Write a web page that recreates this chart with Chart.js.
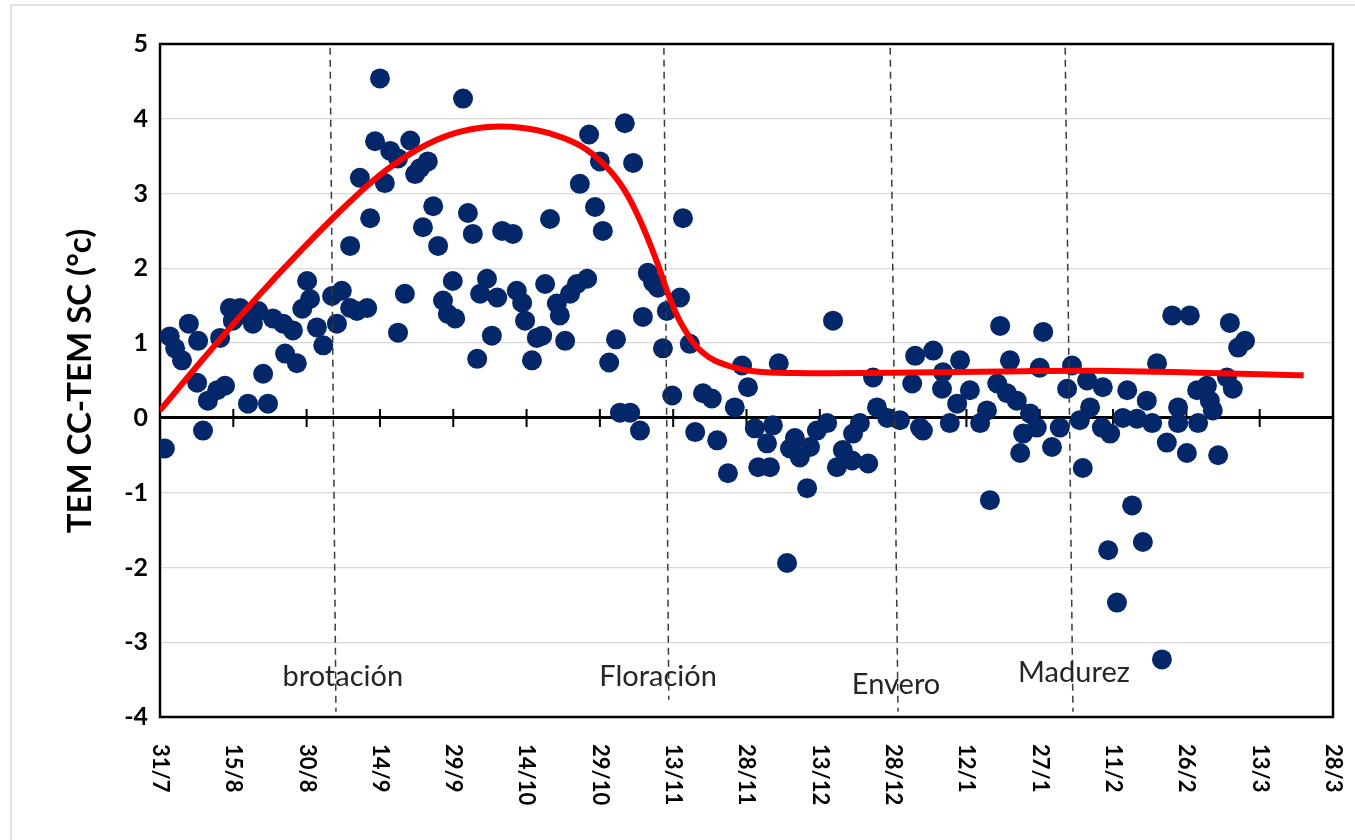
<!DOCTYPE html>
<html>
<head>
<meta charset="utf-8">
<script src="https://cdn.jsdelivr.net/npm/chart.js@4.4.1/dist/chart.umd.min.js"></script>
<style>
  html, body { margin: 0; padding: 0; background: #fff; }
  #wrap { width: 1355px; height: 840px; }
</style>
</head>
<body>
<div id="wrap"><canvas id="chart" width="1355" height="840"></canvas></div>
<script>
'use strict';

// x = days since 31/7, y = TEM CC - TEM SC (°C)
const pointDays = [
  1.0, 2.0, 3.1, 4.5, 5.9, 7.8, 7.6, 8.8, 9.8, 11.7, 13.3, 12.3, 14.3, 16.4, 14.9, 18.4, 20.1, 19.0,
  21.1, 18.0, 22.1, 23.1, 25.2, 27.2, 25.6, 28.0, 30.1, 29.1, 30.7, 32.1, 33.4, 35.2, 36.2, 37.2, 38.9,
  45.0, 62.0, 44.0, 51.2, 47.1, 48.7, 40.9, 46.0, 54.8, 53.2, 52.2, 43.0, 55.9, 53.8, 56.9, 63.0, 64.0,
  70.0, 72.2, 38.9, 42.4, 40.3, 50.1, 48.7, 59.9, 57.9, 60.4, 58.9, 66.9, 65.5, 69.0, 67.9, 64.9, 73.0,
  74.1, 74.7, 77.1, 76.1,
  95.1, 87.8, 96.8, 90.0, 85.9, 89.0, 90.6, 79.8, 107.0, 78.8, 87.4, 85.3, 83.9, 81.2, 81.8, 78.2, 82.9,
  99.8, 100.9, 101.9, 98.8, 103.7, 106.4, 93.3, 91.9, 102.9, 108.4, 104.8, 111.1, 112.9, 94.1, 96.2,
  98.2, 109.5, 114.0,
  137.7, 154.5, 153.9, 119.1, 126.6, 120.3, 145.9, 117.6, 121.7, 125.4, 124.2, 116.2, 122.4, 124.8,
  129.9, 128.9, 130.9, 132.4, 128.3, 134.4, 136.5, 133.0, 138.5, 139.7, 141.6, 141.8, 143.2, 144.9,
  146.7, 148.8, 151.4, 155.5,
  171.9, 180.7, 158.2, 163.7, 160.2, 160.0, 165.7, 163.1, 171.3, 173.9, 180.0, 186.6, 185.6, 173.3,
  175.3, 169.2, 167.8, 156.1, 161.6, 178.0, 179.4, 176.6, 176.0, 182.5, 184.1, 188.8, 169.8, 189.7,
  190.3, 192.9, 188.2, 192.7,
  207.1, 210.7, 218.9, 222.0, 220.6, 204.0, 197.9, 201.9, 208.3, 212.2, 214.2, 218.3, 219.5, 214.8,
  215.4, 197.0, 199.9, 203.0, 194.4, 208.3, 212.4, 206.0, 210.1, 216.5, 198.9, 201.1, 194.0, 195.8, 205.0
];
const pointValues = [
  -0.41, 1.09, 0.93, 0.77, 1.26, 1.03, 0.47, -0.17, 0.23, 0.37, 0.43, 1.07, 1.47, 1.47, 1.30, 1.34, 1.43, 1.26,
  0.59, 0.19, 0.19, 1.33, 1.26, 1.17, 0.86, 0.73, 1.83, 1.46, 1.59, 1.21, 0.97, 1.63, 1.26, 1.70, 2.30,
  4.54, 4.27, 3.70, 3.71, 3.57, 3.47, 3.21, 3.14, 3.43, 3.34, 3.26, 2.67, 2.83, 2.55, 2.30, 2.74, 2.46,
  2.50, 2.46, 1.47, 1.47, 1.43, 1.66, 1.14, 1.83, 1.57, 1.33, 1.39, 1.86, 1.66, 1.61, 1.10, 0.79, 1.70,
  1.54, 1.30, 1.07, 0.77,
  3.94, 3.79, 3.41, 3.43, 3.13, 2.82, 2.50, 2.66, 2.67, 1.79, 1.86, 1.79, 1.66, 1.53, 1.37, 1.10, 1.03,
  1.94, 1.81, 1.74, 1.35, 1.43, 1.61, 1.05, 0.74, 0.93, 0.99, 0.30, 0.33, 0.26, 0.07, 0.07,
  -0.17, -0.19, -0.30,
  1.30, 0.83, 0.46, 0.70, 0.73, 0.41, 0.54, 0.14, -0.14, -0.10, -0.34, -0.74, -0.66, -0.66,
  -0.27, -0.41, -0.53, -0.94, -1.94, -0.17, -0.07, -0.39, -0.66, -0.43, -0.57, -0.21, -0.07, -0.61,
  0.14, 0.00, -0.03, -0.13,
  1.23, 1.15, 0.90, 0.77, 0.61, 0.39, 0.37, 0.19, 0.46, 0.77, 0.67, 0.70, 0.39, 0.33,
  0.23, 0.10, -0.07, -0.17, -0.07, 0.06, -0.13, -0.21, -0.47, -0.39, -0.13, -0.67, -1.10, 0.50,
  0.14, 0.41, -0.03, -0.13,
  1.37, 1.37, 1.27, 1.03, 0.94, 0.73, 0.37, 0.23, 0.14, 0.37, 0.43, 0.54, 0.39, 0.23,
  0.10, 0.00, -0.01, -0.07, -0.21, -0.07, -0.07, -0.33, -0.47, -0.50, -1.17, -1.66, -1.77, -2.47, -3.23
];

// red trend curve
const trendDays = [0, 9, 19, 29, 39, 46, 53, 60, 67, 74, 80, 86, 91, 95,
  98.5, 101.7, 104.3, 107.0, 111.1, 116.6, 122, 130, 145, 172, 192, 234];
const trendValues = [0.10, 0.80, 1.55, 2.25, 2.90, 3.30, 3.60, 3.80, 3.89, 3.88, 3.80, 3.64, 3.38, 3.05,
  2.60, 2.08, 1.60, 1.22, 0.87, 0.69, 0.62, 0.60, 0.60, 0.62, 0.63, 0.57];

const xTickLabels = ['31/7', '15/8', '30/8', '14/9', '29/9', '14/10', '29/10', '13/11', '28/11',
  '13/12', '28/12', '12/1', '27/1', '11/2', '26/2', '13/3', '28/3'];

// phenological stages (dashed markers)
const stageNames = ['brotación', 'Floración', 'Envero', 'Madurez'];
const stageTopDays = [34.8, 103.1, 149.4, 185.2];
const stageBottomDays = [36.0, 104.1, 151.0, 186.8];
const stageBottomValues = [-3.93, -3.77, -3.93, -3.93];
const stageLabelDays = [37.4, 101.9, 150.6, 187.0];
const stageLabelValues = [-3.46, -3.46, -3.57, -3.41];

const FONT = 'Lato, "Open Sans", "Liberation Sans", sans-serif';

const scatterData = pointDays.map((d, i) => ({ x: d, y: pointValues[i] }));
const trendData = trendDays.map((d, i) => ({ x: d, y: trendValues[i] }));

const stageSets = stageNames.map((name, i) => ({
  label: name,
  data: [{ x: stageTopDays[i], y: 4.95 }, { x: stageBottomDays[i], y: stageBottomValues[i] }],
  showLine: true,
  borderColor: '#3c3c3c',
  borderWidth: 1.5,
  borderDash: [7, 5],
  pointRadius: 0,
  order: 1,
}));

const decorPlugin = {
  id: 'decor',
  beforeDraw(chart) {
    const ctx = chart.ctx;
    ctx.save();
    ctx.fillStyle = '#fff';
    ctx.fillRect(0, 0, chart.width, chart.height);
    // sheet frame
    ctx.strokeStyle = '#d9d9d9';
    ctx.lineWidth = 1.5;
    ctx.beginPath();
    ctx.moveTo(11, 5); ctx.lineTo(11, chart.height);
    ctx.moveTo(11, 5); ctx.lineTo(chart.width, 5);
    ctx.stroke();
    ctx.restore();
  },
  beforeDatasetsDraw(chart) {
    const ctx = chart.ctx;
    const a = chart.chartArea;
    const xs = chart.scales.x;
    const ys = chart.scales.y;
    ctx.save();
    ctx.strokeStyle = '#000';
    ctx.lineWidth = 2.5;
    ctx.strokeRect(a.left, a.top, a.right - a.left, a.bottom - a.top);
    // tick marks on the zero line
    const y0 = ys.getPixelForValue(0);
    ctx.lineWidth = 2;
    ctx.beginPath();
    xTickLabels.forEach((_, i) => {
      const px = xs.getPixelForValue(i * 15);
      ctx.moveTo(px, y0 - 9);
      ctx.lineTo(px, y0 + 9);
    });
    ctx.stroke();
    ctx.restore();
  },
  afterDraw(chart) {
    const ctx = chart.ctx;
    const a = chart.chartArea;
    const xs = chart.scales.x;
    const ys = chart.scales.y;
    ctx.save();
    ctx.fillStyle = '#000';
    // x tick labels, rotated clockwise
    ctx.font = 'bold 22px ' + FONT;
    ctx.textAlign = 'left';
    ctx.textBaseline = 'middle';
    xTickLabels.forEach((lab, i) => {
      ctx.save();
      ctx.translate(xs.getPixelForValue(i * 15), a.bottom + 27);
      ctx.rotate(Math.PI / 2);
      ctx.fillText(lab, 0, 0);
      ctx.restore();
    });
    // y axis title
    ctx.font = 'bold 33px ' + FONT;
    ctx.textAlign = 'center';
    ctx.save();
    ctx.translate(80, 381);
    ctx.rotate(-Math.PI / 2);
    ctx.fillText('TEM CC-TEM SC (°c)', 0, 0);
    ctx.restore();
    // stage labels
    ctx.font = '29px ' + FONT;
    ctx.fillStyle = '#262626';
    stageNames.forEach((name, i) => {
      ctx.fillText(name, xs.getPixelForValue(stageLabelDays[i]), ys.getPixelForValue(stageLabelValues[i]));
    });
    ctx.restore();
  },
};

new Chart(document.getElementById('chart'), {
  type: 'scatter',
  data: {
    datasets: [
      {
        label: 'Tendencia',
        data: trendData,
        showLine: true,
        borderColor: '#ff0000',
        borderWidth: 6,
        tension: 0.4,
        pointRadius: 0,
        order: 0,
      },
      ...stageSets,
      {
        label: 'TEM CC-TEM SC',
        data: scatterData,
        backgroundColor: '#032768',
        borderWidth: 0,
        pointRadius: 10,
        order: 2,
      },
    ],
  },
  options: {
    responsive: false,
    animation: false,
    devicePixelRatio: 1,
    layout: { padding: { top: 44, right: 22, left: 0, bottom: 0 } },
    plugins: {
      legend: { display: false },
      tooltip: { enabled: false },
    },
    scales: {
      x: {
        type: 'linear',
        min: 0,
        max: 240,
        ticks: { display: false, stepSize: 15 },
        grid: { display: false },
        border: { display: false },
        afterFit: (scale) => { scale.height = 123; },
      },
      y: {
        min: -4,
        max: 5,
        ticks: {
          stepSize: 1,
          padding: 12,
          color: '#000',
          font: { family: FONT, size: 25, weight: 'bold' },
        },
        grid: {
          drawTicks: false,
          color: (c) => (c.tick && c.tick.value === 0 ? '#000' : '#d9d9d9'),
          lineWidth: (c) => (c.tick && c.tick.value === 0 ? 3 : 1.3),
        },
        border: { display: false },
        afterFit: (scale) => { scale.width = 160; },
      },
    },
  },
  plugins: [decorPlugin],
});
</script>
</body>
</html>
